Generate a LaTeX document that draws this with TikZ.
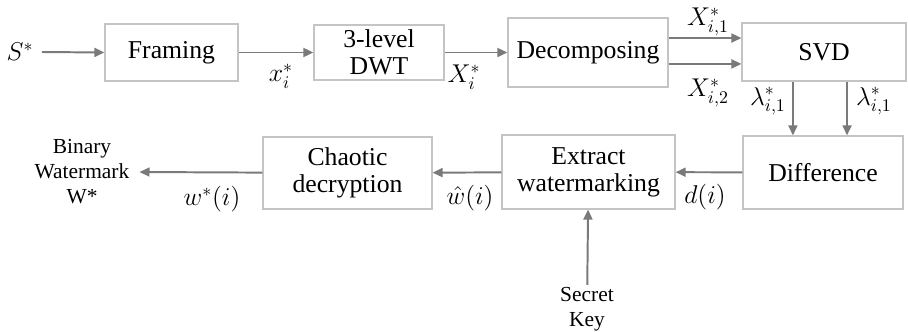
\documentclass[tikz,border=0pt]{standalone}
\usepackage{fontspec}
\setmainfont{Liberation Serif}
\newfontfamily\tnr{Liberation Serif}
\usetikzlibrary{arrows.meta,positioning,calc}
\definecolor{boxline}{HTML}{C4C4C4}
\definecolor{arrline}{HTML}{7A7A7A}
\tikzset{
  blk/.style={draw=boxline, line width=0.67pt, align=center, inner sep=2pt, font={\tnr\Large\baselineskip=15pt}},
  lbl/.style={align=center, inner sep=1pt, font=\tnr\large},
  sym/.style={inner sep=0pt, font=\Large},
  fl/.style={-{Triangle[length=5.6pt, width=5pt]}, line width=1.1pt, draw=arrline},
}
\begin{document}
\begin{tikzpicture}[x=0.56pt, y=-0.56pt]
  \useasboundingbox (0,0) rectangle (908,331);
  % top row
  \node[sym] (s) at (20,52) {$S^{*}$};
  \node[blk, minimum width=74.5pt, minimum height=31.9pt] (frm) at (171.5,52.5) {Framing};
  \node[blk, minimum width=72.8pt, minimum height=30.8pt] (dwt) at (379,52.5) {3-level\\DWT};
  \node[blk, minimum width=89.6pt, minimum height=38.6pt] (dec) at (588,52.5) {Decomposing};
  \node[blk, minimum width=91.8pt, minimum height=32.5pt] (svd) at (824,52) {SVD};
  % bottom row
  \node[blk, minimum width=89.6pt, minimum height=40.9pt] (dif) at (823,172.5) {Difference};
  \node[blk, minimum width=96.9pt, minimum height=41.4pt] (ext) at (588.5,172) {Extract\\watermarking};
  \node[blk, minimum width=94.6pt, minimum height=40.3pt] (cha) at (347.5,173) {Chaotic\\decryption};
  \node[lbl] (bin) at (82,172) {Binary\\Watermark\\W*};
  \node[lbl] (key) at (587,309) {Secret\\Key};
  % connectors
  \draw[fl] ([xshift=4.5pt]s.east) -- (frm.west);
  \draw[fl] (frm) -- (dwt);
  \draw[fl] (dwt) -- (dec);
  \draw[fl] ([yshift=8.1pt]dec.east) -- ([yshift=8.1pt]dec.east -| svd.west);
  \draw[fl] ([yshift=-6.4pt]dec.east) -- ([yshift=-6.4pt]dec.east -| svd.west);
  \draw[fl] ([xshift=-17.4pt]svd.south) -- ([xshift=-17.4pt]svd.south |- dif.north);
  \draw[fl] ([xshift=12.9pt]svd.south) -- ([xshift=12.9pt]svd.south |- dif.north);
  \draw[fl] (dif) -- (ext);
  \draw[fl] (ext) -- (cha);
  \draw[fl] (cha) -- ([xshift=4.5pt]bin.east);
  \draw[fl] (key) -- (ext);
  % signal labels
  \node[sym] (lx) at (281,76) {$x_i^{*}$};
  \node[sym] (lX) at (464,77) {$X_i^{*}$};
  \node[sym] (lX1) at (708,22) {$X_{i,1}^{*}$};
  \node[sym] (lX2) at (708,93) {$X_{i,2}^{*}$};
  \node[sym] (ll1) at (768,101) {$\lambda_{i,1}^{*}$};
  \node[sym] (ll2) at (874,101) {$\lambda_{i,1}^{*}$};
  \node[sym] (ld) at (705,197) {$d(i)$};
  \node[sym] (lw) at (470,198) {$\hat{w}(i)$};
  \node[sym] (lws) at (212,199) {$w^{*}(i)$};
\end{tikzpicture}
\end{document}
